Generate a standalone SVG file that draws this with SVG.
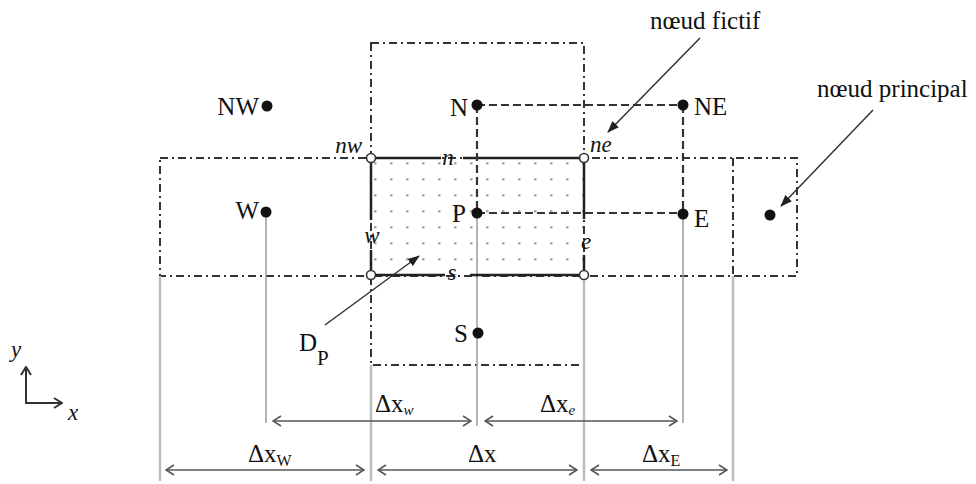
<svg xmlns="http://www.w3.org/2000/svg" width="976" height="484" viewBox="0 0 976 484">
<style>
.dd{fill:none;stroke:#333;stroke-width:2;stroke-dasharray:8 4 2 4}
.cv{stroke:#222;stroke-width:2.5;fill:none}
.dash{stroke:#333;stroke-width:2.2;stroke-dasharray:8 4;fill:none}
.ext{stroke:#9a9a9a;stroke-width:1.5}
.ext2{stroke:#bdbdbd;stroke-width:2.5}
.dim{stroke:#555;stroke-width:1.5;marker-start:url(#vee);marker-end:url(#vee)}
.ann{stroke:#333;stroke-width:1.5;marker-end:url(#tri)}
.ax{stroke:#333;stroke-width:2;marker-end:url(#vee2)}
.lbl{font-family:"Liberation Serif","Times New Roman",serif;font-size:25px;fill:#111}
.it{font-family:"Liberation Serif","Times New Roman",serif;font-style:italic;font-size:23px;fill:#111}
.node{fill:#111}
.fict{fill:#fff;stroke:#333;stroke-width:1.6}
</style>
<defs>
<pattern id="dots" patternUnits="userSpaceOnUse" x="374" y="162" width="16" height="16"><rect width="2.5" height="2.5" fill="#a8a8a8"/></pattern>
<marker id="tri" viewBox="0 0 12 10" refX="11" refY="5" markerWidth="12" markerHeight="10" markerUnits="userSpaceOnUse" orient="auto"><path d="M0,0.5 L12,5 L0,9.5 Z" fill="#222"/></marker>
<marker id="vee" viewBox="0 0 10 12" refX="9" refY="6" markerWidth="10" markerHeight="12" markerUnits="userSpaceOnUse" orient="auto-start-reverse"><path d="M1,1 L9,6 L1,11" fill="none" stroke="#555" stroke-width="1.6"/></marker>
<marker id="vee2" viewBox="0 0 10 12" refX="9" refY="6" markerWidth="10" markerHeight="12" markerUnits="userSpaceOnUse" orient="auto"><path d="M1,1 L9,6 L1,11" fill="none" stroke="#333" stroke-width="2"/></marker>
</defs>

<g id="control-volume">
<rect x="371" y="158" width="213" height="117" fill="url(#dots)"/>
</g>

<g id="grid-lines">
<rect class="dd" x="371" y="43" width="213" height="322"/>
<rect class="dd" x="160" y="158" width="637" height="118"/>
<line class="dd" x1="733" y1="158" x2="733" y2="276"/>
</g>

<g id="extension-lines">
<line class="ext" x1="266" y1="212" x2="266" y2="423"/>
<line class="ext" x1="477" y1="213" x2="477" y2="426"/>
<line class="ext" x1="683" y1="214" x2="683" y2="423"/>
<line class="ext2" x1="160" y1="276" x2="160" y2="481"/>
<line class="ext2" x1="371" y1="365" x2="371" y2="481"/>
<line class="ext2" x1="584" y1="276" x2="584" y2="481"/>
<line class="ext2" x1="733" y1="276" x2="733" y2="481"/>
</g>

<g id="connectors">
<path class="cv" d="M371,158 H441 M463,158 H584 M371,275 H445 M470,275 H584 M371,158 V220 M371,250 V275 M584,158 V219 M584,255 V275"/>
<path class="dash" d="M477,105 H683 M477,105 V213 M477,213 H683 M683,105 V214"/>
<line class="ann" x1="700" y1="38" x2="608" y2="132"/>
<line class="ann" x1="873" y1="110" x2="781" y2="206"/>
<line class="ann" x1="325" y1="325" x2="419" y2="256"/>
<line class="dim" x1="273" y1="421" x2="471" y2="421"/>
<line class="dim" x1="485" y1="421" x2="677" y2="421"/>
<line class="dim" x1="166" y1="470" x2="364" y2="470"/>
<line class="dim" x1="378" y1="470" x2="577" y2="470"/>
<line class="dim" x1="591" y1="470" x2="727" y2="470"/>
<line class="ax" x1="26" y1="403" x2="26" y2="367"/>
<line class="ax" x1="25" y1="403" x2="62" y2="403"/>
</g>

<g id="node-NW"><circle class="node" cx="267" cy="106" r="5.5"/><text class="lbl" x="259" y="115" text-anchor="end">NW</text></g>
<g id="node-N"><circle class="node" cx="477" cy="105" r="5.5"/><text class="lbl" x="468" y="116" text-anchor="end">N</text></g>
<g id="node-NE"><circle class="node" cx="683" cy="105" r="5.5"/><text class="lbl" x="694" y="115">NE</text></g>
<g id="node-W"><circle class="node" cx="266" cy="212" r="5.5"/><text class="lbl" x="259" y="219" text-anchor="end">W</text></g>
<g id="node-P"><circle class="node" cx="477" cy="213" r="5.5"/><text class="lbl" x="466" y="222" text-anchor="end">P</text></g>
<g id="node-E"><circle class="node" cx="683" cy="214" r="5.5"/><text class="lbl" x="694" y="227">E</text></g>
<g id="node-S"><circle class="node" cx="478" cy="333" r="5.5"/><text class="lbl" x="468" y="342" text-anchor="end">S</text></g>
<g id="node-principal"><circle class="node" cx="770" cy="215" r="5.5"/></g>

<g id="node-nw"><circle class="fict" cx="371" cy="158" r="4.5"/><text class="it" x="362" y="153" text-anchor="end">nw</text></g>
<g id="node-ne"><circle class="fict" cx="584" cy="158" r="4.5"/><text class="it" x="590" y="152">ne</text></g>
<g id="node-sw"><circle class="fict" cx="371" cy="275" r="4.5"/></g>
<g id="node-se"><circle class="fict" cx="584" cy="275" r="4.5"/></g>

<g id="face-labels">
<text class="it" x="448" y="165" text-anchor="middle">n</text>
<text class="it" x="452" y="280" text-anchor="middle">s</text>
<text class="it" x="372" y="243" text-anchor="middle">w</text>
<text class="it" x="586" y="249" text-anchor="middle">e</text>
</g>

<g id="annotations">
<text class="lbl" x="650" y="29">nœud fictif</text>
<text class="lbl" x="817" y="97">nœud principal</text>
<text class="lbl" x="299" y="351" font-size="28">D<tspan font-size="21" dy="14">P</tspan></text>
<text class="lbl" x="375" y="412">Δx<tspan font-size="15" font-style="italic" dy="3">w</tspan></text>
<text class="lbl" x="540" y="412">Δx<tspan font-size="15" font-style="italic" dy="3">e</tspan></text>
<text class="lbl" x="248" y="462">Δx<tspan font-size="16" dy="4">W</tspan></text>
<text class="lbl" x="468" y="462">Δx</text>
<text class="lbl" x="642" y="462">Δx<tspan font-size="16" dy="4">E</tspan></text>
<text class="it" x="11" y="357" font-size="16">y</text>
<text class="it" x="68" y="420" font-size="18">x</text>
</g>
</svg>
